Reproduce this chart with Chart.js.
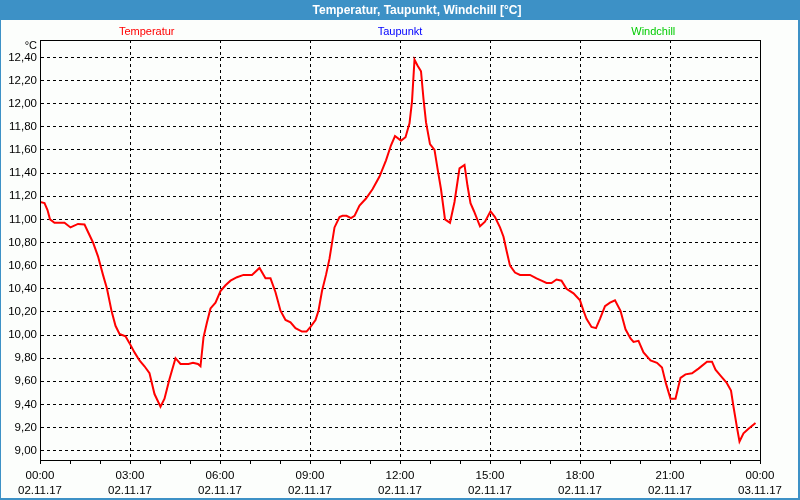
<!DOCTYPE html>
<html>
<head>
<meta charset="utf-8">
<script src="https://cdn.jsdelivr.net/npm/chart.js@4/dist/chart.umd.min.js"></script>
<style>
html,body{margin:0;padding:0;background:#fff;}
#wrap{width:800px;height:500px;position:relative;}
canvas{display:block;}
</style>
</head>
<body>
<div id="wrap"><canvas id="c" width="800" height="500"></canvas></div>
<script>
// ---- data ----
const chartTitle = "Temperatur, Taupunkt, Windchill [°C]";
const seriesNames = ["Temperatur", "Taupunkt", "Windchill"];
const seriesColors = ["#ff0000", "#0000ff", "#00cc00"];
const unitLabel = "°C";

// minutes since 02.11.17 00:00
const minutes = [0,9,15,20,29,49,61,76,89,106,116,126,134,143,151,159,171,179,189,199,209,219,229,241,249,259,271,281,297,306,316,321,327,334,341,351,361,371,381,394,407,424,439,451,461,471,481,491,501,511,524,533,541,551,557,564,572,579,589,599,605,613,622,629,639,652,665,679,692,702,710,722,731,739,744,749,755,762,767,772,780,789,795,802,810,820,829,839,849,855,861,868,880,890,901,910,920,927,933,940,950,960,980,993,1003,1013,1023,1033,1043,1053,1067,1080,1087,1093,1103,1112,1120,1130,1140,1150,1161,1171,1181,1187,1197,1207,1221,1234,1244,1252,1261,1271,1281,1291,1304,1317,1334,1344,1351,1361,1373,1382,1387,1394,1399,1407,1417,1431];
const temperatur = [11.15,11.14,11.08,11.00,10.97,10.97,10.93,10.96,10.955,10.80,10.68,10.52,10.40,10.21,10.08,10.01,9.99,9.93,9.85,9.78,9.73,9.67,9.49,9.38,9.45,9.62,9.80,9.75,9.75,9.76,9.75,9.73,9.98,10.11,10.23,10.28,10.38,10.43,10.47,10.50,10.52,10.52,10.58,10.49,10.49,10.37,10.21,10.13,10.11,10.06,10.03,10.03,10.07,10.13,10.21,10.38,10.52,10.66,10.93,11.02,11.03,11.03,11.01,11.03,11.12,11.18,11.26,11.37,11.51,11.64,11.72,11.68,11.71,11.83,12.02,12.38,12.33,12.28,12.04,11.84,11.65,11.60,11.44,11.26,11.00,10.97,11.15,11.44,11.47,11.29,11.14,11.07,10.94,10.98,11.07,11.02,10.93,10.85,10.73,10.60,10.54,10.52,10.52,10.49,10.47,10.45,10.45,10.48,10.47,10.40,10.36,10.30,10.21,10.14,10.07,10.06,10.14,10.25,10.28,10.30,10.21,10.05,9.97,9.94,9.95,9.85,9.78,9.76,9.72,9.58,9.45,9.45,9.63,9.66,9.67,9.71,9.77,9.77,9.70,9.65,9.59,9.52,9.38,9.20,9.08,9.15,9.19,9.24];
const taupunkt = [];
const windchill = [];

const yTicks = [9.0,9.2,9.4,9.6,9.8,10.0,10.2,10.4,10.6,10.8,11.0,11.2,11.4,11.6,11.8,12.0,12.2,12.4];
const xTickMinutes = [0,180,360,540,720,900,1080,1260,1440];
const xTickTimes = ["00:00","03:00","06:00","09:00","12:00","15:00","18:00","21:00","00:00"];
const xTickDates = ["02.11.17","02.11.17","02.11.17","02.11.17","02.11.17","02.11.17","02.11.17","02.11.17","03.11.17"];

const FONT = "'Liberation Sans', Arial, sans-serif";

const framePlugin = {
  id: 'frame',
  beforeDraw(chart) {
    const ctx = chart.ctx;
    ctx.save();
    ctx.fillStyle = '#fcfefc';
    ctx.fillRect(0, 0, 800, 500);
    ctx.restore();
  },
  afterDraw(chart) {
    const ctx = chart.ctx;
    const a = chart.chartArea;
    ctx.save();
    // blue frame and title bar
    ctx.fillStyle = '#3d91c6';
    ctx.fillRect(0, 0, 800, 20);
    ctx.fillRect(0, 0, 1, 500);
    ctx.fillRect(798, 0, 2, 500);
    ctx.fillRect(0, 498, 800, 2);
    ctx.fillStyle = '#ffffff';
    ctx.font = "bold 12px " + FONT;
    ctx.textAlign = 'center';
    ctx.textBaseline = 'middle';
    ctx.fillText(chartTitle, 417, 10.5);
    // legend labels
    ctx.font = "11px " + FONT;
    const centers = [146.7, 400, 653.3];
    seriesNames.forEach((n, i) => {
      ctx.fillStyle = seriesColors[i];
      ctx.fillText(n, centers[i], 32);
    });
    // unit
    ctx.fillStyle = '#000';
    ctx.textAlign = 'right';
    ctx.fillText(unitLabel, 37, 46);
    // plot frame
    ctx.strokeStyle = '#000';
    ctx.lineWidth = 1;
    ctx.strokeRect(Math.round(a.left) + 0.5, Math.round(a.top) + 0.5, Math.round(a.right - a.left), Math.round(a.bottom - a.top));
    ctx.restore();
  }
};

new Chart(document.getElementById('c'), {
  type: 'line',
  data: {
    datasets: [
      { label: seriesNames[0], data: minutes.map((m, i) => ({x: m, y: temperatur[i]})), borderColor: seriesColors[0], borderWidth: 2, pointRadius: 0, tension: 0, fill: false },
      { label: seriesNames[1], data: taupunkt, borderColor: seriesColors[1], borderWidth: 2, pointRadius: 0 },
      { label: seriesNames[2], data: windchill, borderColor: seriesColors[2], borderWidth: 2, pointRadius: 0 }
    ]
  },
  options: {
    responsive: false,
    animation: false,
    layout: { padding: { left: 0, top: 40, right: 40, bottom: 0 } },
    plugins: { legend: { display: false }, tooltip: { enabled: false }, title: { display: false } },
    scales: {
      x: {
        type: 'linear',
        min: 0, max: 1440,
        afterBuildTicks: s => { const t = []; for (let m = 0; m <= 1440; m += 60) t.push({value: m}); s.ticks = t; },
        afterFit: s => { s.height = 40; },
        grid: {
          color: c => (c.tick && c.tick.value % 180 === 0 && c.tick.value > 0 && c.tick.value < 1440) ? '#000' : 'rgba(0,0,0,0)',
          tickColor: '#000',
          tickLength: 4,
          lineWidth: 1,
          drawOnChartArea: true
        },
        border: { display: true, color: '#000', width: 1, dash: [3, 3] },
        ticks: {
          autoSkip: false,
          maxRotation: 0,
          padding: 5,
          color: '#000',
          font: { family: FONT, size: 11.5, lineHeight: 1.25 },
          callback: v => { const i = xTickMinutes.indexOf(v); return i >= 0 ? [xTickTimes[i], xTickDates[i]] : ''; }
        }
      },
      y: {
        type: 'linear',
        min: 8.92, max: 12.55,
        afterBuildTicks: s => { s.ticks = yTicks.map(v => ({value: v})); },
        afterFit: s => { s.width = 40; },
        grid: { color: '#000', lineWidth: 1, drawTicks: false },
        border: { display: true, color: '#000', width: 1, dash: [3, 3] },
        ticks: {
          padding: 3,
          color: '#000',
          font: { family: FONT, size: 11.5 },
          callback: v => v.toFixed(2).replace('.', ',')
        }
      }
    }
  },
  plugins: [framePlugin]
});
</script>
</body>
</html>
